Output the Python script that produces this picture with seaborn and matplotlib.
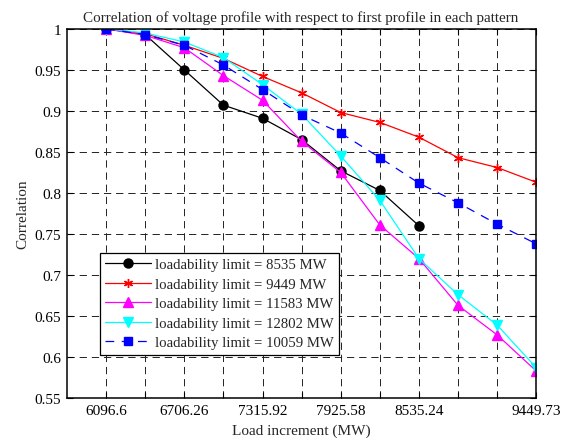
import matplotlib
matplotlib.use("Agg")
import matplotlib.pyplot as plt
import seaborn as sns
import pandas as pd

# Load increments (MW) at each step of the pattern
loads = [6096.6, 6401.43, 6706.26, 7011.09, 7315.92, 7620.75,
         7925.58, 8230.41, 8535.24, 8840.07, 9144.90, 9449.73]
tick_labels = ["6096.6", "", "6706.26", "", "7315.92", "",
               "7925.58", "", "8535.24", "", "", "9449.73"]

# Correlation with the first profile for each loadability limit
corr_8535 = [1.000, 0.993, 0.950, 0.907, 0.891, 0.865, 0.827, 0.803, 0.760]
corr_9449 = [1.000, 0.994, 0.980, 0.964, 0.942, 0.922, 0.898, 0.886,
             0.868, 0.843, 0.831, 0.813]
corr_11583 = [1.000, 0.992, 0.977, 0.943, 0.913, 0.863, 0.825, 0.761,
              0.720, 0.663, 0.627, 0.583]
corr_12802 = [1.000, 0.995, 0.984, 0.965, 0.932, 0.896, 0.845, 0.791,
              0.720, 0.676, 0.639, 0.587]
corr_10059 = [1.000, 0.993, 0.980, 0.956, 0.926, 0.895, 0.873, 0.843,
              0.812, 0.788, 0.762, 0.738]

series_labels = ["loadability limit = 8535 MW",
                 "loadability limit = 9449 MW",
                 "loadability limit = 11583 MW",
                 "loadability limit = 12802 MW",
                 "loadability limit = 10059 MW"]

sns.set_style("ticks")
plt.rcParams["font.family"] = ["Liberation Serif", "DejaVu Serif"]

fig = plt.figure(figsize=(5.68, 4.39), dpi=100)
ax = fig.add_axes([0.118, 0.091, 0.826, 0.841])

styles = [
    dict(color="black", marker="o", ms=6.5, ls="-"),
    dict(color="red", marker=(6, 2, 0), ms=6.5, ls="-"),
    dict(color="magenta", marker="^", ms=7.5, ls="-"),
    dict(color="cyan", marker="v", ms=7.5, ls="-"),
    dict(color="blue", marker="s", ms=5.2, ls=(0, (7, 6))),
]
all_series = [corr_8535, corr_9449, corr_11583, corr_12802, corr_10059]

for vals, label, st in zip(all_series, series_labels, styles):
    df = pd.DataFrame({"load": loads[:len(vals)], "corr": vals})
    sns.lineplot(data=df, x="load", y="corr", ax=ax, label=label,
                 color=st["color"], marker=st["marker"], markersize=st["ms"],
                 linestyle=st["ls"], linewidth=0.9,
                 markerfacecolor=st["color"], markeredgecolor=st["color"],
                 markeredgewidth=1.0, estimator=None, sort=False)

ax.set_xlim(loads[0] - (loads[1] - loads[0]), loads[-1])
ax.set_ylim(0.55, 1.0)
ax.set_xticks(loads)
ax.set_xticklabels(tick_labels)
yt = [0.55, 0.6, 0.65, 0.7, 0.75, 0.8, 0.85, 0.9, 0.95, 1.0]
ax.set_yticks(yt)
ax.set_yticklabels(["0.55", "0.6", "0.65", "0.7", "0.75", "0.8",
                    "0.85", "0.9", "0.95", "1"])

ax.set_axisbelow(True)
ax.grid(True, color="#222222", linestyle=(0, (7.5, 5)), linewidth=0.7)
ax.tick_params(direction="in", top=True, right=True, length=4, width=0.8,
               labelsize=11, colors="black", pad=4)
for sp in ax.spines.values():
    sp.set_linewidth(1.1)
    sp.set_color("black")
    sp.set_visible(True)

ax.set_title("Correlation of voltage profile with respect to first profile in each pattern",
             fontsize=10.9, pad=6, x=0.497)
ax.set_xlabel("Load increment (MW)", fontsize=11, labelpad=5)
ax.set_ylabel("Correlation", fontsize=11, labelpad=4)

leg = ax.legend(loc="upper left", bbox_to_anchor=(0.07, 0.393), fontsize=10.6,
                frameon=True, fancybox=False, edgecolor="black",
                framealpha=1, handlelength=3.1, borderpad=0.35,
                labelspacing=0.42, handletextpad=0.3, borderaxespad=0)
leg.get_frame().set_linewidth(0.9)

fig.savefig("out.png", dpi=100)
